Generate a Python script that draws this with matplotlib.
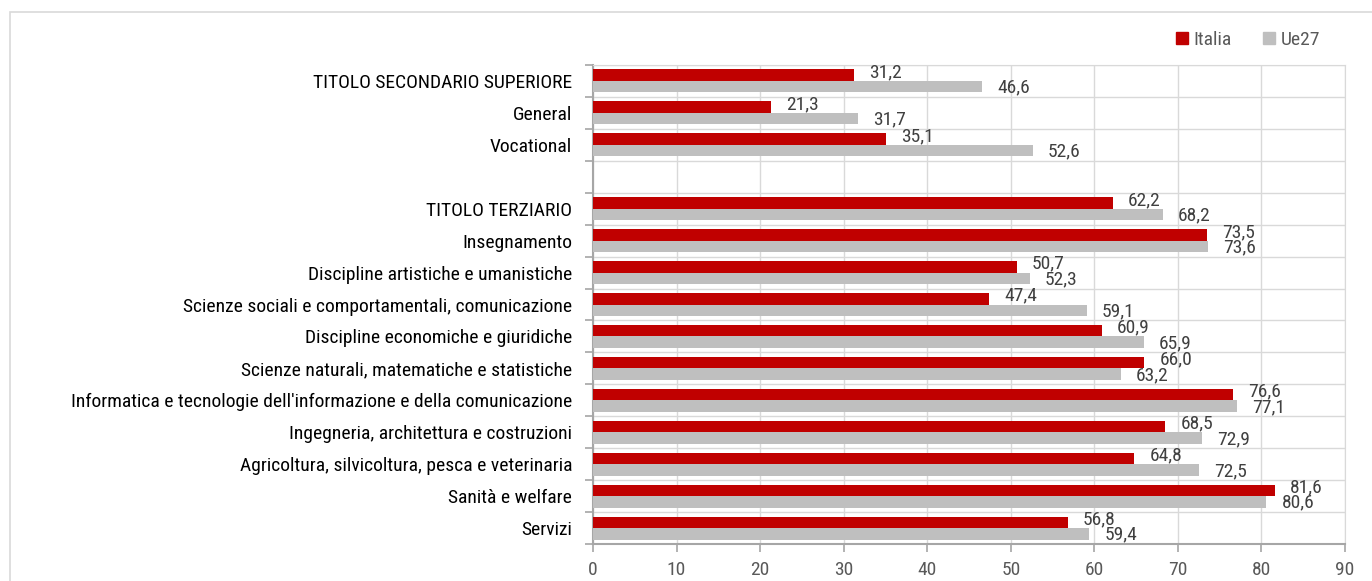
import matplotlib
matplotlib.use("Agg")
import matplotlib.pyplot as plt
from matplotlib.lines import Line2D
from matplotlib.patches import Rectangle
from matplotlib import font_manager

categories = [
    "TITOLO SECONDARIO SUPERIORE", "General", "Vocational", "",
    "TITOLO TERZIARIO", "Insegnamento", "Discipline artistiche e umanistiche",
    "Scienze sociali e comportamentali, comunicazione",
    "Discipline economiche e giuridiche",
    "Scienze naturali, matematiche e statistiche",
    "Informatica e tecnologie dell'informazione e della comunicazione",
    "Ingegneria, architettura e costruzioni",
    "Agricoltura, silvicoltura, pesca e veterinaria",
    "Sanità e welfare", "Servizi",
]
italia = [31.2, 21.3, 35.1, None, 62.2, 73.5, 50.7, 47.4, 60.9, 66.0, 76.6, 68.5, 64.8, 81.6, 56.8]
ue27 = [46.6, 31.7, 52.6, None, 68.2, 73.6, 52.3, 59.1, 65.9, 63.2, 77.1, 72.9, 72.5, 80.6, 59.4]
series_names = ["Italia", "Ue27"]
xticks = list(range(0, 91, 10))

names = {f.name for f in font_manager.fontManager.ttflist}
chosen = "Liberation Sans"
for cand in ["Arial Narrow", "Liberation Sans Narrow", "Roboto Condensed", "Archivo Narrow", "PT Sans Narrow"]:
    if cand in names:
        chosen = cand
        break
plt.rcParams["font.family"] = [chosen, "DejaVu Sans"]

RED = "#C00000"
GREY = "#BFBFBF"
FS = 14

fig = plt.figure(figsize=(13.72, 5.81), dpi=100)
fig.patches.append(Rectangle((10/1372, -0.1), 1.2, 1 - 12/581 + 0.1, transform=fig.transFigure,
                             fill=False, edgecolor="#D9D9D9", linewidth=1.2))
ax = fig.add_axes([593/1372, 37/581, (1345-593)/1372, (544-65)/581])

n = len(categories)
h = 0.36
off = 0.18
for i in range(n):
    if italia[i] is None:
        continue
    ax.barh(i - off, italia[i], height=h, color=RED, zorder=3)
    ax.barh(i + off, ue27[i], height=h, color=GREY, zorder=3)
    ax.annotate(f"{italia[i]:.1f}".replace(".", ","), (italia[i], i - off),
                xytext=(15, 3), textcoords="offset pixels", va="center", ha="left",
                fontsize=14, color="#404040")
    ax.annotate(f"{ue27[i]:.1f}".replace(".", ","), (ue27[i], i + off),
                xytext=(15, -1), textcoords="offset pixels", va="center", ha="left",
                fontsize=14, color="#404040")

ax.set_ylim(n - 0.5, -0.5)
ax.set_xlim(0, 90)
ax.set_xticks(xticks)
ax.set_yticks(range(n))
ax.set_yticklabels(categories)
ax.set_yticks([k - 0.5 for k in range(n + 1)], minor=True)
ax.tick_params(axis="y", which="major", length=0, pad=15, labelsize=FS, labelcolor="#000000")
ax.tick_params(axis="y", which="minor", length=6, color="#A6A6A6", width=1.2)
ax.tick_params(axis="x", which="major", length=6, color="#A6A6A6", width=1.2,
               labelsize=FS, labelcolor="#595959", pad=6)

ax.grid(axis="x", which="major", color="#D9D9D9", linewidth=1, zorder=0)
ax.grid(axis="y", which="minor", color="#D9D9D9", linewidth=1, zorder=0)
ax.set_axisbelow(True)
for s in ["top", "right"]:
    ax.spines[s].set_color("#D9D9D9")
for s in ["left", "bottom"]:
    ax.spines[s].set_color("#A6A6A6")
    ax.spines[s].set_linewidth(1.5)

handles = [Line2D([], [], marker="s", linestyle="none", markersize=9, color=RED),
           Line2D([], [], marker="s", linestyle="none", markersize=9, color=GREY)]
fig.legend(handles, series_names, loc="center right", bbox_to_anchor=(1338/1372, 1 - 40/581),
           ncol=2, frameon=False, fontsize=FS, handlelength=0.8, handletextpad=0.2,
           columnspacing=1.55, labelcolor="#595959")

fig.savefig("out.png", dpi=100)
